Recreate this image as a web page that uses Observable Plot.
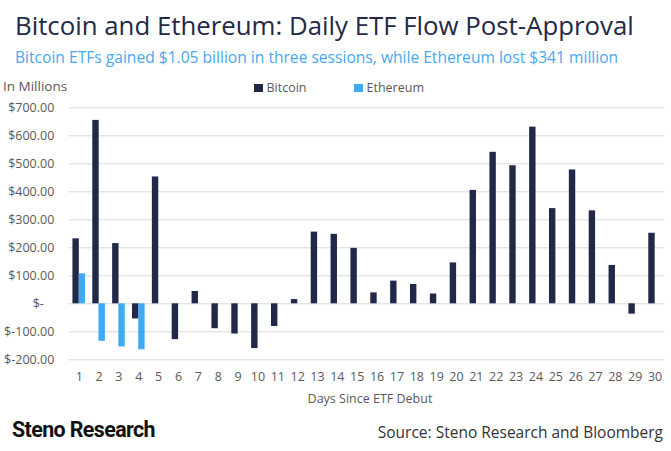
<!DOCTYPE html>
<html>
<head>
<meta charset="utf-8">
<script src="https://cdn.jsdelivr.net/npm/d3@7"></script>
<script src="https://cdn.jsdelivr.net/npm/@observablehq/plot@0.6"></script>
<style>
  html, body { margin: 0; padding: 0; background: #fff; }
  #wrap { position: relative; width: 671px; height: 451px; overflow: hidden; font-family: "Open Sans", sans-serif; }
  .abs { position: absolute; white-space: nowrap; }
  #title { left: 15px; top: 7px; font-size: 25.8px; color: #232946; line-height: 36px; }
  #subtitle { left: 15px; top: 47px; font-size: 15.6px; color: #48a8f2; line-height: 20px; }
  #units { left: 3px; top: 77px; font-size: 13.5px; color: #595959; line-height: 18px; }
  .leg { top: 79px; font-size: 12.5px; color: #595959; line-height: 18px; display: flex; align-items: center; }
  .sw { width: 8.5px; height: 8.5px; display: inline-block; margin-right: 4px; }
  #plot { left: 0; top: 95px; }
  #xlabel { left: 0; width: 740px; text-align: center; top: 390px; font-size: 12.5px; color: #595959; line-height: 18px; }
  #brand { left: 12px; top: 416px; font-family: Roboto, sans-serif; font-weight: 700; font-size: 21.4px; color: #111; letter-spacing: -0.6px; line-height: 28px; }
  #source { right: 8px; top: 421px; font-size: 15.5px; color: #333; line-height: 22px; }
</style>
</head>
<body>
<div id="wrap">
  <div id="title" class="abs">Bitcoin and Ethereum: Daily ETF Flow Post-Approval</div>
  <div id="subtitle" class="abs">Bitcoin ETFs gained $1.05 billion in three sessions, while Ethereum lost $341 million</div>
  <div id="units" class="abs">In Millions</div>
  <div class="abs leg" style="left:254px"><span class="sw" style="background:#222848"></span>Bitcoin</div>
  <div class="abs leg" style="left:354px"><span class="sw" style="background:#3fa9f5"></span>Ethereum</div>
  <div id="plot" class="abs"></div>
  <div id="xlabel" class="abs">Days Since ETF Debut</div>
  <div id="brand" class="abs">Steno Research</div>
  <div id="source" class="abs">Source: Steno Research and Bloomberg</div>
</div>
<script>
const days = d3.range(1, 31);
const bitcoin = [232, 655, 215, -54, 453, -128, 44, -89, -108, -160, -81, 15, 256, 248, 198, 39, 81, 69, 35, 146, 405, 541, 493, 631, 340, 478, 332, 137, -37, 252];
const ethereumDays = [1, 2, 3, 4];
const ethereum = [107, -134, -154, -164];
const yTicks = [-200, -100, 0, 100, 200, 300, 400, 500, 600, 700];

const btcData = days.map((d, i) => ({day: d, value: bitcoin[i]}));
const ethData = ethereumDays.map((d, i) => ({day: d, value: ethereum[i]}));

const W = 671, H = 295;
const pIn = 1 - 6.4 / 19.86;
const chart = Plot.plot({
  width: W,
  height: H,
  marginTop: 12.3,
  marginBottom: 30.7,
  marginLeft: 68.8,
  marginRight: 6.5,
  style: {fontFamily: "Open Sans, sans-serif", fontSize: "12.5px", color: "#595959", background: "white"},
  x: {type: "band", domain: days, paddingInner: pIn, paddingOuter: pIn / 2, round: false, label: null},
  y: {domain: [-200, 700], label: null},
  marks: [
    Plot.ruleY(yTicks, {stroke: "#d9d9d9", strokeWidth: 1}),
    Plot.barY(btcData, {x: "day", y: "value", fill: "#222848", dx: -3.1}),
    Plot.barY(ethData, {x: "day", y: "value", fill: "#3fa9f5", dx: 3.1}),
    Plot.axisY({ticks: yTicks, tickSize: 0, tickPadding: 15, label: null,
      tickFormat: d => d === 0 ? "$-\u2007\u00a0" : "$" + d.toFixed(2), fill: "#595959"}),
    Plot.axisX({tickSize: 0, tickPadding: 12, label: null, fill: "#595959"})
  ]
});
document.getElementById("plot").appendChild(chart);
</script>
</body>
</html>
